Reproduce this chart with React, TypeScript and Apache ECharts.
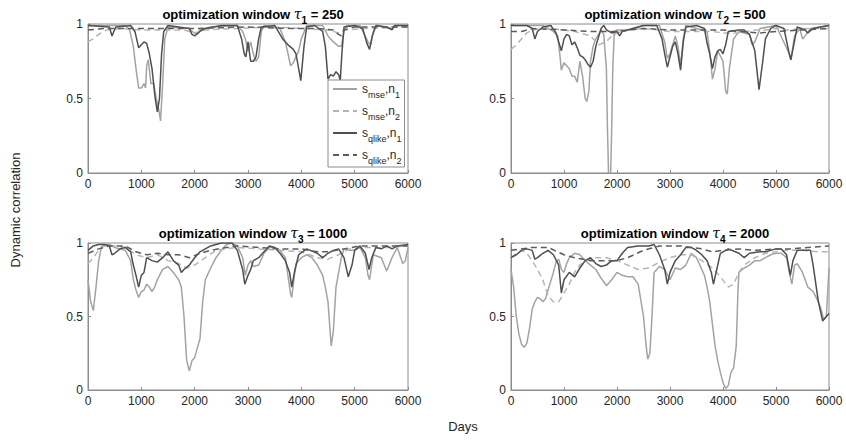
import React, { useEffect, useRef } from "react";
import * as echarts from "echarts";

type P = [number, number][];

// ---------- Panel 1: tau1 = 250 ----------
const p1MseN1: P = [[0,0.99],[700,0.99],[780,0.96],[850,0.85],[900,0.7],[950,0.57],[1000,0.57],[1050,0.6],[1080,0.57],[1100,0.72],[1130,0.76],[1180,0.6],[1230,0.6],[1280,0.5],[1330,0.42],[1360,0.35],[1400,0.6],[1440,0.9],[1500,0.98],[1900,0.97],[1950,0.95],[2000,0.94],[2050,0.93],[2100,0.96],[2300,0.98],[2800,0.99],[2900,0.95],[2950,0.9],[3000,0.82],[3050,0.88],[3100,0.8],[3150,0.75],[3200,0.78],[3250,0.95],[3300,0.99],[3600,0.97],[3700,0.88],[3800,0.72],[3850,0.74],[3900,0.78],[3950,0.82],[4000,0.9],[4100,0.99],[4400,0.99],[4500,0.92],[4600,0.88],[4700,0.85],[4750,0.85],[4800,0.95],[4850,0.99],[5100,0.99],[5250,0.88],[5300,0.86],[5350,0.95],[5400,0.99],[5700,0.97],[5800,0.99],[6000,0.99]];
const p1MseN2: P = [[0,0.88],[100,0.9],[200,0.93],[350,0.96],[600,0.97],[1000,0.96],[1400,0.96],[1800,0.96],[2000,0.94],[2200,0.96],[2800,0.97],[3500,0.98],[4000,0.97],[4500,0.96],[4700,0.94],[4800,0.96],[5200,0.97],[6000,0.98]];
const p1QlikeN1: P = [[0,0.99],[400,0.98],[450,0.92],[520,0.98],[800,0.99],[880,0.95],[950,0.84],[1000,0.86],[1050,0.88],[1100,0.87],[1150,0.8],[1200,0.7],[1260,0.5],[1300,0.41],[1340,0.5],[1380,0.8],[1420,0.95],[1500,0.99],[1900,0.97],[1950,0.93],[2000,0.92],[2100,0.95],[2200,0.97],[2500,0.99],[2800,0.99],[2880,0.9],[2930,0.8],[2960,0.78],[3000,0.88],[3050,0.75],[3100,0.75],[3150,0.78],[3200,0.9],[3250,0.98],[3500,0.99],[3550,0.96],[3650,0.9],[3750,0.86],[3850,0.83],[3900,0.8],[3950,0.7],[3990,0.62],[4050,0.85],[4100,0.98],[4250,0.99],[4400,0.95],[4450,0.85],[4500,0.63],[4550,0.66],[4600,0.65],[4650,0.68],[4700,0.66],[4730,0.62],[4760,0.8],[4800,0.98],[5000,0.99],[5150,0.97],[5230,0.87],[5280,0.83],[5330,0.92],[5400,0.99],[5600,0.98],[5700,0.96],[5750,0.99],[6000,0.99]];
const p1QlikeN2: P = [[0,0.96],[300,0.97],[1000,0.97],[2000,0.97],[3000,0.98],[3800,0.97],[4300,0.97],[4600,0.96],[4700,0.93],[4750,0.92],[4800,0.96],[5000,0.98],[6000,0.98]];

// ---------- Panel 2: tau2 = 500 ----------
const p2MseN1: P = [[0,0.99],[600,0.99],[700,0.97],[800,0.95],[880,0.92],[920,0.8],[950,0.69],[1000,0.74],[1050,0.72],[1100,0.7],[1150,0.65],[1200,0.65],[1250,0.61],[1300,0.75],[1350,0.65],[1400,0.5],[1430,0.48],[1470,0.55],[1500,0.75],[1550,0.85],[1600,0.9],[1700,0.96],[1750,0.93],[1800,0.7],[1820,0.3],[1840,0],[1880,0],[1900,0.3],[1920,0.7],[1950,0.95],[2000,0.96],[2200,0.96],[2500,0.99],[2800,0.99],[2900,0.88],[2950,0.77],[3000,0.8],[3100,0.92],[3150,0.85],[3200,0.72],[3250,0.9],[3300,0.99],[3700,0.95],[3770,0.75],[3800,0.63],[3850,0.7],[3900,0.82],[4000,0.75],[4050,0.55],[4080,0.53],[4120,0.7],[4200,0.9],[4300,0.95],[4500,0.93],[4550,0.86],[4600,0.88],[4700,0.97],[5000,0.99],[5250,0.8],[5280,0.76],[5350,0.92],[5450,0.97],[5500,0.9],[5550,0.92],[5650,0.97],[6000,0.99]];
const p2MseN2: P = [[0,0.83],[100,0.86],[200,0.9],[300,0.94],[400,0.96],[600,0.97],[1000,0.96],[1200,0.95],[1500,0.92],[1650,0.86],[1800,0.88],[1900,0.92],[2000,0.94],[2200,0.96],[2500,0.97],[3000,0.95],[3500,0.95],[3800,0.95],[4000,0.94],[4300,0.94],[4600,0.96],[4800,0.96],[5000,0.97],[5200,0.96],[5600,0.97],[6000,0.97]];
const p2QlikeN1: P = [[0,0.99],[300,0.99],[400,0.97],[450,0.9],[500,0.95],[600,0.98],[750,0.99],[850,0.94],[950,0.82],[1000,0.9],[1050,0.93],[1100,0.92],[1150,0.86],[1200,0.88],[1250,0.84],[1300,0.79],[1350,0.78],[1400,0.76],[1450,0.73],[1500,0.71],[1550,0.75],[1600,0.85],[1700,0.97],[1750,0.99],[1800,0.96],[1850,0.95],[1900,0.94],[2000,0.95],[2050,0.92],[2100,0.95],[2300,0.97],[2500,0.99],[2750,0.99],[2850,0.9],[2900,0.8],[2950,0.71],[3000,0.78],[3050,0.85],[3100,0.88],[3150,0.8],[3200,0.69],[3250,0.88],[3300,0.98],[3500,0.99],[3650,0.97],[3700,0.87],[3750,0.8],[3800,0.7],[3850,0.78],[3900,0.82],[3950,0.83],[4000,0.8],[4050,0.86],[4100,0.95],[4300,0.96],[4400,0.96],[4500,0.93],[4600,0.82],[4680,0.56],[4750,0.75],[4800,0.9],[4900,0.97],[5000,0.99],[5150,0.97],[5250,0.8],[5280,0.76],[5330,0.85],[5400,0.98],[5550,0.96],[5600,0.94],[5700,0.97],[6000,0.99]];
const p2QlikeN2: P = [[0,0.95],[200,0.95],[400,0.97],[1000,0.96],[1500,0.95],[2000,0.95],[2500,0.97],[3000,0.96],[3500,0.96],[4000,0.96],[4300,0.95],[4700,0.94],[5000,0.95],[5500,0.96],[6000,0.97]];

// ---------- Panel 3: tau3 = 1000 ----------
const p3MseN1: P = [[0,0.75],[50,0.6],[100,0.54],[150,0.7],[200,0.88],[250,0.97],[300,0.99],[400,0.99],[500,0.97],[700,0.95],[800,0.88],[850,0.75],[900,0.68],[950,0.63],[1000,0.67],[1050,0.68],[1100,0.72],[1150,0.7],[1200,0.67],[1250,0.7],[1300,0.75],[1400,0.82],[1500,0.84],[1600,0.8],[1700,0.75],[1750,0.7],[1800,0.5],[1850,0.2],[1900,0.13],[1950,0.2],[2000,0.22],[2100,0.35],[2150,0.6],[2200,0.75],[2300,0.83],[2400,0.9],[2500,0.95],[2600,0.99],[2700,1],[2800,0.98],[2900,0.9],[2950,0.78],[3000,0.85],[3050,0.88],[3100,0.84],[3200,0.85],[3300,0.93],[3400,0.97],[3500,0.97],[3600,0.95],[3700,0.9],[3800,0.65],[3820,0.63],[3870,0.78],[3900,0.86],[4000,0.9],[4100,0.92],[4200,0.9],[4300,0.85],[4400,0.78],[4450,0.7],[4500,0.6],[4560,0.3],[4600,0.4],[4650,0.7],[4700,0.8],[4750,0.9],[4800,0.96],[4900,0.95],[5000,0.95],[5100,0.97],[5200,0.9],[5250,0.78],[5280,0.75],[5300,0.8],[5350,0.92],[5500,0.9],[5600,0.81],[5700,0.9],[5800,0.97],[5900,0.86],[5950,0.88],[6000,0.97]];
const p3MseN2: P = [[0,0.86],[100,0.9],[200,0.95],[300,0.98],[500,0.98],[700,0.97],[900,0.92],[1100,0.9],[1300,0.92],[1500,0.88],[1700,0.86],[1850,0.83],[2000,0.85],[2200,0.9],[2400,0.95],[2600,0.96],[2800,0.97],[3200,0.96],[3600,0.95],[4000,0.94],[4300,0.9],[4500,0.89],[4700,0.92],[4900,0.96],[5200,0.97],[5600,0.97],[6000,0.98]];
const p3QlikeN1: P = [[0,0.95],[100,0.98],[200,0.99],[300,0.99],[400,0.98],[450,0.92],[500,0.93],[600,0.96],[700,0.97],[800,0.94],[850,0.85],[900,0.78],[950,0.7],[1000,0.78],[1050,0.8],[1100,0.9],[1200,0.88],[1300,0.87],[1400,0.9],[1500,0.94],[1600,0.88],[1700,0.85],[1750,0.8],[1800,0.82],[1900,0.85],[2000,0.9],[2100,0.94],[2200,0.96],[2300,0.98],[2400,0.99],[2500,1],[2700,1],[2800,0.95],[2900,0.82],[2940,0.72],[3000,0.78],[3050,0.82],[3100,0.88],[3200,0.9],[3300,0.94],[3400,0.98],[3500,0.97],[3600,0.93],[3700,0.88],[3780,0.8],[3820,0.7],[3870,0.8],[3950,0.92],[4100,0.96],[4300,0.93],[4400,0.9],[4500,0.93],[4600,0.95],[4700,0.96],[4800,0.9],[4880,0.77],[4950,0.85],[5000,0.95],[5100,0.98],[5200,0.93],[5270,0.82],[5320,0.9],[5400,0.97],[5500,0.96],[5600,0.98],[5700,0.96],[5800,0.98],[6000,0.99]];
const p3QlikeN2: P = [[0,0.93],[200,0.96],[400,0.98],[700,0.98],[900,0.94],[1100,0.92],[1300,0.93],[1500,0.92],[1700,0.92],[1900,0.9],[2100,0.93],[2300,0.95],[2600,0.97],[2800,0.98],[3200,0.97],[3600,0.96],[4000,0.96],[4300,0.94],[4500,0.94],[4800,0.96],[5100,0.98],[5500,0.98],[6000,0.98]];

// ---------- Panel 4: tau4 = 2000 ----------
const p4MseN1: P = [[0,0.82],[50,0.7],[100,0.5],[150,0.38],[200,0.31],[250,0.29],[300,0.32],[350,0.42],[400,0.55],[450,0.6],[500,0.63],[550,0.62],[600,0.6],[650,0.62],[700,0.68],[800,0.8],[850,0.87],[900,0.89],[950,0.82],[1000,0.8],[1050,0.86],[1100,0.9],[1200,0.93],[1300,0.92],[1400,0.88],[1500,0.85],[1600,0.82],[1700,0.76],[1800,0.71],[1900,0.75],[2000,0.8],[2100,0.78],[2200,0.77],[2300,0.77],[2400,0.72],[2500,0.5],[2550,0.3],[2580,0.21],[2620,0.25],[2660,0.5],[2700,0.8],[2800,0.84],[2900,0.82],[3000,0.75],[3100,0.83],[3200,0.82],[3300,0.85],[3400,0.93],[3500,0.9],[3600,0.82],[3650,0.78],[3700,0.7],[3750,0.6],[3800,0.45],[3850,0.3],[3900,0.2],[3950,0.12],[4000,0.05],[4050,0.01],[4100,0.03],[4150,0.12],[4200,0.15],[4250,0.3],[4280,0.65],[4300,0.8],[4400,0.83],[4500,0.85],[4600,0.88],[4700,0.88],[4800,0.9],[4900,0.92],[5000,0.93],[5100,0.93],[5200,0.9],[5250,0.8],[5300,0.72],[5350,0.85],[5400,0.86],[5500,0.8],[5600,0.7],[5700,0.67],[5800,0.6],[5850,0.55],[5900,0.48],[5950,0.5],[6000,0.83]];
const p4MseN2: P = [[0,0.9],[100,0.93],[200,0.95],[300,0.93],[400,0.88],[500,0.82],[600,0.75],[700,0.64],[800,0.6],[900,0.6],[1000,0.66],[1100,0.72],[1200,0.8],[1300,0.85],[1400,0.88],[1600,0.9],[1800,0.9],[2000,0.88],[2200,0.85],[2400,0.82],[2600,0.83],[2800,0.87],[3000,0.9],[3200,0.92],[3400,0.92],[3600,0.88],[3800,0.83],[3950,0.77],[4100,0.7],[4200,0.72],[4300,0.8],[4400,0.85],[4600,0.9],[4800,0.93],[5000,0.94],[5200,0.95],[5500,0.95],[5800,0.94],[6000,0.94]];
const p4QlikeN1: P = [[0,0.9],[100,0.92],[200,0.95],[300,0.96],[400,0.95],[450,0.89],[500,0.9],[600,0.93],[700,0.95],[800,0.92],[900,0.85],[950,0.66],[1000,0.75],[1100,0.8],[1200,0.77],[1300,0.83],[1400,0.88],[1500,0.9],[1600,0.86],[1700,0.84],[1800,0.85],[1900,0.88],[2000,0.88],[2100,0.93],[2200,0.97],[2400,0.98],[2600,0.98],[2700,0.99],[2800,0.92],[2900,0.82],[2950,0.72],[3000,0.8],[3100,0.88],[3200,0.92],[3300,0.97],[3400,0.97],[3500,0.95],[3600,0.92],[3700,0.88],[3780,0.8],[3820,0.72],[3870,0.8],[3950,0.93],[4100,0.96],[4300,0.93],[4400,0.9],[4500,0.93],[4700,0.94],[4800,0.94],[5000,0.96],[5100,0.96],[5200,0.92],[5270,0.78],[5320,0.88],[5400,0.95],[5500,0.95],[5650,0.95],[5700,0.85],[5800,0.6],[5880,0.47],[5950,0.5],[6000,0.52]];
const p4QlikeN2: P = [[0,0.95],[400,0.97],[700,0.97],[1000,0.92],[1200,0.9],[1500,0.88],[1800,0.88],[2000,0.88],[2200,0.9],[2500,0.95],[2800,0.98],[3200,0.98],[3600,0.96],[3800,0.94],[4000,0.95],[4300,0.96],[4600,0.95],[5000,0.96],[5300,0.96],[5600,0.97],[6000,0.98]];

const panelTaus = ["1", "2", "3", "4"];
const panelWindows = ["250", "500", "1000", "2000"];
const seriesNames = ["s_mse,n_1", "s_mse,n_2", "s_qlike,n_1", "s_qlike,n_2"];
const panelData: P[][] = [
  [p1MseN1, p1MseN2, p1QlikeN1, p1QlikeN2],
  [p2MseN1, p2MseN2, p2QlikeN1, p2QlikeN2],
  [p3MseN1, p3MseN2, p3QlikeN1, p3QlikeN2],
  [p4MseN1, p4MseN2, p4QlikeN1, p4QlikeN2],
];
const xTicks = { min: 0, max: 6000, interval: 1000 };
const yTicks = { min: 0, max: 1, interval: 0.5 };

const lineColors = ["#a3a3a3", "#b5b5b5", "#4f4f4f", "#5c5c5c"];
const lineTypes: any[] = ["solid", [6, 4], "solid", [6, 4]];

const gridRects = [
  { left: 88, top: 24, width: 320, height: 149 },
  { left: 511, top: 24, width: 318, height: 149 },
  { left: 88, top: 243, width: 320, height: 147 },
  { left: 511, top: 243, width: 318, height: 147 },
];

const AXIS = "#8c8c8c";
const TXT = "#262626";
const FONT = "'Liberation Sans', Arial, sans-serif";

export default function App() {
  const ref = useRef<HTMLDivElement>(null);
  useEffect(() => {
    document.body.style.margin = "0";
    if (!ref.current) return;
    const chart = echarts.init(ref.current, undefined, { renderer: "svg" });

    const grids = gridRects.map((g) => ({
      ...g,
      show: true,
      borderColor: AXIS,
      borderWidth: 1,
      backgroundColor: "transparent",
      containLabel: false,
    }));
    const xAxes = gridRects.map((_, i) => ({
      type: "value",
      gridIndex: i,
      ...xTicks,
      axisLine: { show: true, lineStyle: { color: AXIS, width: 1 } },
      axisTick: { show: true, inside: true, length: 3, lineStyle: { color: AXIS } },
      axisLabel: {
        color: TXT, fontSize: 12, fontFamily: FONT, margin: 5,
        showMinLabel: true, showMaxLabel: true,
        formatter: (v: number) => String(v),
      },
      splitLine: { show: false },
    }));
    const yAxes = gridRects.map((_, i) => ({
      type: "value",
      gridIndex: i,
      ...yTicks,
      axisLine: { show: true, lineStyle: { color: AXIS, width: 1 } },
      axisTick: { show: true, inside: true, length: 3, lineStyle: { color: AXIS } },
      axisLabel: { color: TXT, fontSize: 12, fontFamily: FONT, margin: 5, formatter: (v: number) => String(v) },
      splitLine: { show: false },
    }));
    const series: any[] = [];
    panelData.forEach((arr, pi) => {
      arr.forEach((d, si) => {
        series.push({
          type: "line",
          name: seriesNames[si],
          xAxisIndex: pi,
          yAxisIndex: pi,
          data: d,
          symbol: "none",
          showSymbol: false,
          lineStyle: { color: lineColors[si], width: 1.5, type: lineTypes[si] },
          itemStyle: { color: lineColors[si] },
        });
      });
    });
    const titles = gridRects.map((g, i) => ({
      text: `{t|optimization window }{tau|τ}{sub|${panelTaus[i]}}{t| = ${panelWindows[i]}}`,
      left: g.left + g.width / 2,
      top: g.top - 26,
      textAlign: "center",
      textStyle: {
        rich: {
          t: { fontSize: 13, fontWeight: "bold", color: "#000", fontFamily: FONT, lineHeight: 22 },
          tau: { fontSize: 14, fontStyle: "italic", fontWeight: "normal", color: "#000", fontFamily: "'DejaVu Serif', serif", lineHeight: 22 },
          sub: { fontSize: 10, fontWeight: "bold", color: "#000", fontFamily: FONT, lineHeight: 10, verticalAlign: "bottom" },
        },
      },
    }));

    chart.setOption({
      animation: false,
      title: titles,
      grid: grids,
      xAxis: xAxes,
      yAxis: yAxes,
      legend: {
        data: seriesNames,
        orient: "vertical",
        left: 328,
        top: 80,
        itemWidth: 24,
        itemHeight: 12,
        itemGap: 6,
        padding: [3, 3, 2, 4],
        backgroundColor: "#fff",
        borderColor: AXIS,
        borderWidth: 1,
        itemStyle: { opacity: 0, borderWidth: 0 },
        inactiveColor: TXT,
        formatter: (name: string) => {
          const m = name.match(/^s_(\w+),n_(\d)$/);
          if (!m) return name;
          return `{ma|s}{sb|${m[1]}}{ma|,n}{sb|${m[2]}}`;
        },
        textStyle: {
          color: "#262626",
          rich: {
            ma: { fontSize: 12, color: "#262626", fontFamily: FONT, lineHeight: 20 },
            sb: { fontSize: 9, color: "#262626", fontFamily: FONT, lineHeight: 9, verticalAlign: "bottom", textBorderWidth: 0 },
          },
        },
      },
      graphic: [
        {
          type: "text",
          x: 15,
          y: 210,
          rotation: Math.PI / 2,
          style: { text: "Dynamic correlation", fill: TXT, fontSize: 13, fontFamily: FONT, align: "center", verticalAlign: "middle" },
        },
        {
          type: "text",
          x: 463,
          y: 426,
          style: { text: "Days", fill: TXT, fontSize: 13, fontFamily: FONT, align: "center", verticalAlign: "middle" },
        },
      ],
      series,
    });
    return () => chart.dispose();
  }, []);
  return <div ref={ref} style={{ width: 846, height: 442 }} />;
}
